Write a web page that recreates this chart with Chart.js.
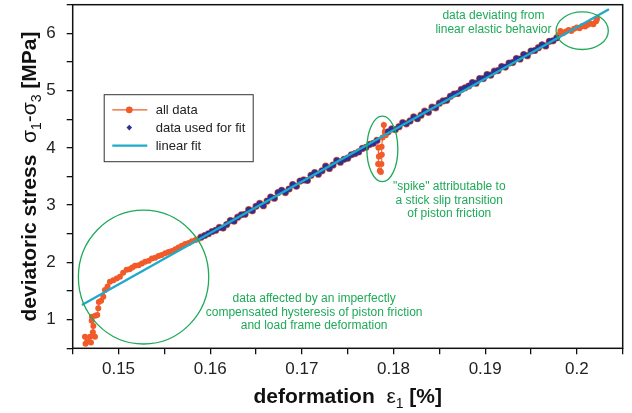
<!DOCTYPE html>
<html lang="en">
<head>
    <meta charset="UTF-8">
    <title>Deviatoric stress vs deformation</title>
    <script src="https://cdn.jsdelivr.net/npm/chart.js"></script>
    <style>
        body { margin: 0; background: #fff; }
        #wrap { width: 632px; height: 413px; }
    </style>
</head>
<body>
    <div id="wrap"><canvas id="chart" width="632" height="413"></canvas></div>

    <script>
        // low loading ramp (all data only, not used for fit)
        const rampStrain = [0.14634, 0.14640, 0.14660, 0.14699, 0.14690, 0.14743, 0.14720, 0.14725, 0.14707, 0.14710,
            0.14745, 0.14768, 0.14779, 0.14785, 0.14810, 0.14834, 0.14852, 0.14880, 0.14906, 0.14943,
            0.14980, 0.15015, 0.15050, 0.15088, 0.15120, 0.15150, 0.15180, 0.15219, 0.15255, 0.15291,
            0.15330, 0.15364, 0.15400, 0.15437, 0.15470, 0.15509, 0.15545, 0.15582, 0.15620, 0.15655,
            0.15690, 0.15727, 0.15765, 0.15800, 0.15840, 0.15873];
        const rampStress = [0.70, 0.58, 0.62, 0.60, 0.70, 0.70, 0.78, 0.89, 0.98, 1.05,
            1.07, 1.08, 1.20, 1.31, 1.33, 1.40, 1.52, 1.58, 1.66, 1.69,
            1.72, 1.75, 1.82, 1.87, 1.88, 1.91, 1.94, 1.95, 1.98, 2.01,
            2.03, 2.07, 2.08, 2.11, 2.13, 2.16, 2.18, 2.20, 2.23, 2.26,
            2.29, 2.32, 2.34, 2.37, 2.39, 2.41];

        // data used for the linear fit
        const fitStrain = [0.1590, 0.1594, 0.1598, 0.1602, 0.1606, 0.1610, 0.1614, 0.1618, 0.1622, 0.1626,
            0.1630, 0.1634, 0.1638, 0.1642, 0.1646, 0.1650, 0.1654, 0.1658, 0.1662, 0.1666,
            0.1670, 0.1674, 0.1678, 0.1682, 0.1686, 0.1690, 0.1694, 0.1698, 0.1702, 0.1706,
            0.1710, 0.1714, 0.1718, 0.1722, 0.1726, 0.1730, 0.1734, 0.1738, 0.1742, 0.1746,
            0.1750, 0.1754, 0.1758, 0.1762, 0.1766, 0.1770, 0.1774, 0.1778, 0.1782,
            0.1794, 0.1798, 0.1802, 0.1806, 0.1810, 0.1814, 0.1818, 0.1822, 0.1826, 0.1830,
            0.1834, 0.1838, 0.1842, 0.1846, 0.1850, 0.1854, 0.1858, 0.1862, 0.1866, 0.1870,
            0.1874, 0.1878, 0.1882, 0.1886, 0.1890, 0.1894, 0.1898, 0.1902, 0.1906, 0.1910,
            0.1914, 0.1918, 0.1922, 0.1926, 0.1930, 0.1934, 0.1938, 0.1942, 0.1946, 0.1950,
            0.1954, 0.1958, 0.1962, 0.1966, 0.1970, 0.1974, 0.1978];
        const fitStress = [2.44, 2.47, 2.50, 2.54, 2.56, 2.61, 2.60, 2.66, 2.73, 2.72,
            2.79, 2.83, 2.84, 2.92, 2.90, 2.98, 3.03, 2.99, 3.07, 3.14,
            3.12, 3.22, 3.26, 3.22, 3.28, 3.36, 3.33, 3.42, 3.44, 3.43,
            3.52, 3.57, 3.54, 3.60, 3.68, 3.64, 3.70, 3.78, 3.75, 3.80,
            3.82, 3.88, 3.90, 3.93, 3.99, 4.01, 4.06, 4.08, 4.13,
            4.28, 4.33, 4.32, 4.37, 4.44, 4.42, 4.47, 4.54, 4.51, 4.57,
            4.64, 4.62, 4.71, 4.70, 4.78, 4.82, 4.83, 4.90, 4.94, 4.95,
            5.02, 5.05, 5.08, 5.14, 5.13, 5.21, 5.21, 5.28, 5.27, 5.34,
            5.35, 5.42, 5.41, 5.48, 5.49, 5.56, 5.55, 5.63, 5.61, 5.69,
            5.70, 5.75, 5.80, 5.78, 5.86, 5.87, 5.92];

        // stick-slip spike
        const spikeStrain = [0.17835, 0.17840, 0.17832, 0.17850, 0.17862, 0.17868, 0.17872, 0.17870, 0.17880, 0.17894, 0.17905, 0.17915];
        const spikeStress = [4.00, 3.85, 3.72, 3.60, 3.58, 3.72, 3.88, 4.02, 4.18, 4.40, 4.28, 4.22];

        // end of test, deviating from linear behaviour
        const topStrain = [0.1980, 0.1982, 0.1985, 0.1988, 0.1991, 0.1994, 0.1997, 0.2000, 0.2003, 0.2006,
            0.2009, 0.2012, 0.2015, 0.2018, 0.2021, 0.2022];
        const topStress = [5.97, 6.04, 6.00, 6.03, 6.06, 6.04, 6.08, 6.10, 6.09, 6.13,
            6.12, 6.15, 6.17, 6.16, 6.21, 6.25];

        // linear fit end points
        const lineStrain = [0.1460, 0.2035];
        const lineStress = [1.256, 6.42];

        const xTicksMin = 0.145, xTicksMax = 0.205, xStep = 0.005;
        const yTicksMin = 0.5, yTicksMax = 6.5, yStep = 0.5;

        const ORANGE = '#f15a29';
        const NAVY = '#2e3192';
        const CYAN = '#1eaacb';
        const GREEN = '#1faa59';

        const toPts = (xs, ys) => xs.map((x, i) => ({ x: x, y: ys[i] }));

        // all data in acquisition order, spike spliced in after 0.1782
        const fitPts = toPts(fitStrain, fitStress);
        const cut = fitStrain.indexOf(0.1782) + 1;
        const allPts = [].concat(
            toPts(rampStrain, rampStress),
            fitPts.slice(0, cut),
            toPts(spikeStrain, spikeStress),
            fitPts.slice(cut),
            toPts(topStrain, topStress)
        );

        // annotations in data units
        const ellipses = [
            { cx: 0.15273, cy: 1.744, rx: 0.00711, ry: 1.169 },
            { cx: 0.17878, cy: 3.982, rx: 0.00169, ry: 0.573 },
            { cx: 0.20058, cy: 6.046, rx: 0.00285, ry: 0.328 }
        ];
        const notes = [
            { x: 0.17134, y: 1.36, lines: ['data affected by an imperfectly', 'compensated hysteresis of piston friction', 'and load frame deformation'] },
            { x: 0.18608, y: 3.32, lines: ['"spike" attributable to', 'a stick slip transition', 'of piston friction'] },
            { x: 0.19090, y: 6.30, lines: ['data deviating from', 'linear elastic behavior'] }
        ];

        const FONT = '"Liberation Sans", Arial, sans-serif';

        function drawParts(ctx, parts, cx, cy) {
            // parts: {t, bold, sub}
            let total = 0;
            parts.forEach(p => {
                ctx.font = (p.bold ? 'bold ' : '') + (p.sub ? '14px ' : '21px ') + FONT;
                p.w = ctx.measureText(p.t).width;
                total += p.w;
            });
            let x = cx - total / 2;
            ctx.textBaseline = 'alphabetic';
            ctx.textAlign = 'left';
            parts.forEach(p => {
                ctx.font = (p.bold ? 'bold ' : '') + (p.sub ? '14px ' : '21px ') + FONT;
                ctx.fillText(p.t, x, cy + (p.sub ? 5 : 0));
                x += p.w;
            });
        }

        const decorPlugin = {
            id: 'decor',
            afterDatasetsDraw(chart) {
                const ctx = chart.ctx;
                const xs = chart.scales.x, ys = chart.scales.y;
                const a = chart.chartArea;
                ctx.save();

                // ellipses
                ctx.strokeStyle = GREEN;
                ctx.lineWidth = 1.3;
                ellipses.forEach(e => {
                    const px = xs.getPixelForValue(e.cx), py = ys.getPixelForValue(e.cy);
                    const rx = Math.abs(xs.getPixelForValue(e.cx + e.rx) - px);
                    const ry = Math.abs(ys.getPixelForValue(e.cy + e.ry) - py);
                    ctx.beginPath();
                    ctx.ellipse(px, py, rx, ry, 0, 0, Math.PI * 2);
                    ctx.stroke();
                });

                // notes
                ctx.fillStyle = GREEN;
                ctx.font = '12px ' + FONT;
                ctx.textAlign = 'center';
                ctx.textBaseline = 'middle';
                notes.forEach(n => {
                    const px = xs.getPixelForValue(n.x), py = ys.getPixelForValue(n.y);
                    n.lines.forEach((l, i) => ctx.fillText(l, px, py + i * 13.4));
                });

                // frame
                ctx.strokeStyle = '#111';
                ctx.lineWidth = 1.5;
                ctx.strokeRect(a.left, a.top, a.right - a.left, a.bottom - a.top);

                // legend box
                const lx = a.left + 31, ly = a.top + 89.5, lw = 149, lh = 67;
                ctx.fillStyle = '#fff';
                ctx.fillRect(lx, ly, lw, lh);
                ctx.strokeStyle = '#333';
                ctx.lineWidth = 1;
                ctx.strokeRect(lx + 0.5, ly + 0.5, lw, lh);
                const rows = [ly + 15.7, ly + 33.4, ly + 51.4];
                const labels = ['all data', 'data used for fit', 'linear fit'];
                // all data
                ctx.strokeStyle = ORANGE; ctx.lineWidth = 1.2;
                ctx.beginPath(); ctx.moveTo(lx + 8.6, rows[0]); ctx.lineTo(lx + 43.6, rows[0]); ctx.stroke();
                ctx.fillStyle = ORANGE;
                ctx.beginPath(); ctx.arc(lx + 25.6, rows[0], 3.3, 0, Math.PI * 2); ctx.fill();
                // fit data
                ctx.fillStyle = NAVY;
                ctx.beginPath();
                ctx.moveTo(lx + 25.6, rows[1] - 2.8); ctx.lineTo(lx + 28.4, rows[1]);
                ctx.lineTo(lx + 25.6, rows[1] + 2.8); ctx.lineTo(lx + 22.8, rows[1]);
                ctx.closePath(); ctx.fill();
                // linear fit
                ctx.strokeStyle = CYAN; ctx.lineWidth = 2.2;
                ctx.beginPath(); ctx.moveTo(lx + 8.6, rows[2]); ctx.lineTo(lx + 43.6, rows[2]); ctx.stroke();
                ctx.fillStyle = '#222';
                ctx.font = '13px ' + FONT;
                ctx.textAlign = 'left';
                ctx.textBaseline = 'middle';
                labels.forEach((t, i) => ctx.fillText(t, lx + 52, rows[i] + 0.5));

                // axis titles
                ctx.fillStyle = '#111';
                drawParts(ctx, [
                    { t: 'deformation  ', bold: true },
                    { t: '\u03b5' },
                    { t: '1', sub: true },
                    { t: ' [%]', bold: true }
                ], (a.left + a.right) / 2, 403);

                ctx.translate(36, (a.top + a.bottom) / 2);
                ctx.rotate(-Math.PI / 2);
                drawParts(ctx, [
                    { t: 'deviatoric stress  ', bold: true },
                    { t: '\u03c3' },
                    { t: '1', sub: true },
                    { t: '-' },
                    { t: '\u03c3' },
                    { t: '3', sub: true },
                    { t: ' [MPa]', bold: true }
                ], 0, 0);
                ctx.restore();
            }
        };

        const near = (v, s) => Math.abs(v / s - Math.round(v / s)) < 1e-6;

        new Chart(document.getElementById('chart'), {
            type: 'scatter',
            data: {
                datasets: [
                    {
                        label: 'linear fit',
                        data: toPts(lineStrain, lineStress),
                        showLine: true,
                        borderColor: CYAN,
                        borderWidth: 2.3,
                        pointRadius: 0,
                        order: 0
                    },
                    {
                        label: 'data used for fit',
                        data: fitPts,
                        pointStyle: 'circle',
                        pointRadius: 3,
                        backgroundColor: NAVY,
                        borderColor: NAVY,
                        borderWidth: 0,
                        order: 1
                    },
                    {
                        label: 'all data',
                        data: allPts,
                        showLine: true,
                        borderColor: ORANGE,
                        borderWidth: 1.1,
                        pointRadius: ctx => (ctx.raw && ctx.raw.x >= 0.1589 && ctx.raw.x <= 0.1979 && fitStrain.indexOf(ctx.raw.x) >= 0) ? 3.6 : 3,
                        pointBackgroundColor: ORANGE,
                        pointBorderWidth: 0,
                        order: 2
                    }
                ]
            },
            options: {
                responsive: false,
                animation: false,
                layout: { padding: { left: 0, right: 9.3, top: 4.7, bottom: 0 } },
                plugins: { legend: { display: false }, tooltip: { enabled: false } },
                scales: {
                    x: {
                        type: 'linear',
                        min: xTicksMin,
                        max: xTicksMax,
                        afterFit: s => { s.height = 64.7; s.paddingLeft = 0; s.paddingRight = 0; },
                        afterBuildTicks: s => {
                            const t = [];
                            for (let i = 0; i <= Math.round((xTicksMax - xTicksMin) / xStep); i++) t.push({ value: +(xTicksMin + i * xStep).toFixed(4) });
                            s.ticks = t;
                        },
                        ticks: {
                            color: '#222',
                            font: { family: FONT, size: 17 },
                            padding: 5,
                            maxRotation: 0,
                            autoSkip: false,
                            callback: v => near(v, 0.01) ? String(+v.toFixed(2)) : ''
                        },
                        grid: { drawOnChartArea: false, drawTicks: true, tickLength: 6, color: '#111', lineWidth: 1.3 },
                        border: { display: false }
                    },
                    y: {
                        type: 'linear',
                        min: yTicksMin,
                        max: yTicksMax,
                        afterFit: s => { s.width = 72.7; s.paddingTop = 0; s.paddingBottom = 0; },
                        afterBuildTicks: s => {
                            const t = [];
                            for (let i = 0; i <= Math.round((yTicksMax - yTicksMin) / yStep); i++) t.push({ value: yTicksMin + i * yStep });
                            s.ticks = t;
                        },
                        ticks: {
                            color: '#222',
                            font: { family: FONT, size: 17 },
                            padding: 11,
                            autoSkip: false,
                            callback: v => near(v, 1) ? String(Math.round(v)) : ''
                        },
                        grid: { drawOnChartArea: false, drawTicks: true, tickLength: 6, color: '#111', lineWidth: 1.3 },
                        border: { display: false }
                    }
                }
            },
            plugins: [decorPlugin]
        });
    </script>
</body>
</html>
